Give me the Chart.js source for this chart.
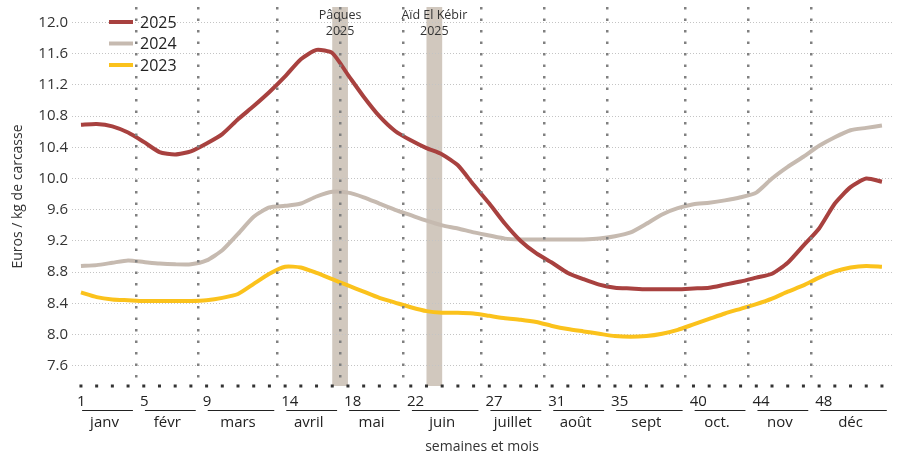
<!DOCTYPE html>
<html>
<head>
<meta charset="utf-8">
<script src="https://cdn.jsdelivr.net/npm/chart.js@4.4.0/dist/chart.umd.min.js"></script>
<style>
  html, body { margin: 0; padding: 0; background: #fff; }
</style>
</head>
<body>
<canvas id="myChart" width="904" height="456"></canvas>
<script>
// semaines 1 -> 52
const weeks = [1, 2, 3, 4, 5, 6, 7, 8, 9, 10, 11, 12, 13, 14, 15, 16, 17, 18, 19, 20, 21, 22, 23, 24, 25, 26,
  27, 28, 29, 30, 31, 32, 33, 34, 35, 36, 37, 38, 39, 40, 41, 42, 43, 44, 45, 46, 47, 48, 49, 50, 51, 52];

const prix2025 = [10.69, 10.70, 10.67, 10.59, 10.47, 10.34, 10.31, 10.35, 10.45, 10.57, 10.76, 10.93, 11.11,
  11.31, 11.53, 11.65, 11.61, 11.33, 11.05, 10.80, 10.61, 10.49, 10.39, 10.31, 10.17, 9.92,
  9.68, 9.42, 9.20, 9.04, 8.92, 8.79, 8.71, 8.64, 8.60, 8.59, 8.58, 8.58, 8.58, 8.59,
  8.60, 8.64, 8.68, 8.73, 8.78, 8.92, 9.14, 9.36, 9.68, 9.89, 10.00, 9.96];

const prix2024 = [8.88, 8.89, 8.92, 8.95, 8.93, 8.91, 8.90, 8.90, 8.95, 9.08, 9.29, 9.51, 9.63,
  9.65, 9.68, 9.77, 9.83, 9.82, 9.76, 9.68, 9.60, 9.53, 9.46, 9.40, 9.36, 9.31,
  9.27, 9.23, 9.22, 9.22, 9.22, 9.22, 9.22, 9.23, 9.26, 9.31, 9.42, 9.54, 9.62, 9.67,
  9.69, 9.72, 9.76, 9.82, 10.00, 10.15, 10.28, 10.42, 10.53, 10.62, 10.65, 10.68];

const prix2023 = [8.54, 8.48, 8.45, 8.44, 8.43, 8.43, 8.43, 8.43, 8.44, 8.47, 8.52, 8.65, 8.78,
  8.87, 8.86, 8.79, 8.71, 8.63, 8.55, 8.47, 8.41, 8.35, 8.30, 8.28, 8.28, 8.27,
  8.24, 8.21, 8.19, 8.16, 8.11, 8.07, 8.04, 8.01, 7.98, 7.97, 7.98, 8.01, 8.06, 8.13,
  8.20, 8.27, 8.33, 8.39, 8.46, 8.55, 8.63, 8.73, 8.81, 8.86, 8.88, 8.87];

const yTicks = [7.6, 7.8, 8.0, 8.2, 8.4, 8.6, 8.8, 9.0, 9.2, 9.4, 9.6, 9.8, 10.0, 10.2, 10.4,
  10.6, 10.8, 11.0, 11.2, 11.4, 11.6, 11.8, 12.0];

const monthStarts = [1, 5, 9, 14, 18, 22, 27, 31, 35, 40, 44, 48];
const monthNames = ['janv', 'févr', 'mars', 'avril', 'mai', 'juin', 'juillet', 'août', 'sept', 'oct.', 'nov', 'déc'];
const lastWeekEnd = 52.5;

const eventNames = [['Pâques', '2025'], ['Aïd El Kébir', '2025']];
const eventFrom = [17, 23];
const eventTo = [18, 24];

const FONT = "'Open Sans', sans-serif";
const colors = ['#a8413f', '#c6bab0', '#fbc21c'];

// bandes des fêtes (sous la grille)
const eventBands = {
  id: 'eventBands',
  beforeDraw(chart) {
    const { ctx, chartArea, scales: { x } } = chart;
    ctx.save();
    ctx.fillStyle = '#d1c8be';
    for (let i = 0; i < eventFrom.length; i++) {
      const x1 = x.getPixelForValue(eventFrom[i]);
      const x2 = x.getPixelForValue(eventTo[i]);
      ctx.fillRect(x1, chartArea.top, x2 - x1, chartArea.bottom - chartArea.top);
    }
    ctx.restore();
  },
  afterDraw(chart) {
    const { ctx, chartArea, scales: { x } } = chart;
    ctx.save();
    ctx.fillStyle = '#333';
    ctx.font = '12.5px ' + FONT;
    ctx.textAlign = 'center';
    ctx.textBaseline = 'middle';
    for (let i = 0; i < eventFrom.length; i++) {
      const cx = x.getPixelForValue((eventFrom[i] + eventTo[i]) / 2);
      ctx.fillText(eventNames[i][0], cx, chartArea.top + 8);
      ctx.fillText(eventNames[i][1], cx, chartArea.top + 24);
    }
    ctx.restore();
  }
};

// axe du bas : points, numeros de semaine, mois
const monthAxis = {
  id: 'monthAxis',
  afterDraw(chart) {
    const { ctx, chartArea, scales: { x } } = chart;
    const step = x.getPixelForValue(2) - x.getPixelForValue(1);
    ctx.save();
    // ligne pointillee du bas, un point par semaine
    ctx.strokeStyle = '#333';
    ctx.lineWidth = 3;
    ctx.setLineDash([3, step - 3]);
    const x0 = x.getPixelForValue(weeks[0]) - 1.5;
    ctx.beginPath();
    ctx.moveTo(x0, chartArea.bottom);
    ctx.lineTo(x.getPixelForValue(weeks[weeks.length - 1]) + 2, chartArea.bottom);
    ctx.stroke();
    ctx.setLineDash([]);

    ctx.fillStyle = '#222';
    ctx.strokeStyle = '#222';
    ctx.lineWidth = 1;
    ctx.textBaseline = 'middle';
    for (let i = 0; i < monthStarts.length; i++) {
      const b1 = x.getPixelForValue(monthStarts[i] - 0.5);
      const b2 = x.getPixelForValue(i < monthStarts.length - 1 ? monthStarts[i + 1] - 0.5 : lastWeekEnd);
      ctx.font = '15px ' + FONT;
      ctx.textAlign = 'left';
      ctx.fillText(String(monthStarts[i]), b1 + 4, chartArea.bottom + 16);
      ctx.beginPath();
      ctx.moveTo(b1 + 9, chartArea.bottom + 24.5);
      ctx.lineTo(b2 - 3, chartArea.bottom + 24.5);
      ctx.stroke();
      ctx.textAlign = 'center';
      ctx.fillText(monthNames[i], (b1 + b2) / 2, chartArea.bottom + 37);
    }
    ctx.restore();
  }
};

// legende dans le coin haut gauche
const innerLegend = {
  id: 'innerLegend',
  afterDraw(chart) {
    const { ctx, chartArea } = chart;
    ctx.save();
    ctx.font = '16px ' + FONT;
    ctx.textBaseline = 'middle';
    ctx.textAlign = 'left';
    chart.data.datasets.forEach((ds, i) => {
      const y = chartArea.top + 15 + i * 21.5;
      ctx.strokeStyle = ds.borderColor;
      ctx.lineWidth = 4;
      ctx.beginPath();
      ctx.moveTo(chartArea.left + 37, y);
      ctx.lineTo(chartArea.left + 61, y);
      ctx.stroke();
      ctx.fillStyle = '#222';
      ctx.fillText(ds.label, chartArea.left + 68, y + 1);
    });
    ctx.restore();
  }
};

const toPoints = (vals) => weeks.map((w, i) => ({ x: w, y: vals[i] }));

new Chart(document.getElementById('myChart'), {
  type: 'line',
  data: {
    datasets: [
      { label: '2025', data: toPoints(prix2025), borderColor: colors[0] },
      { label: '2024', data: toPoints(prix2024), borderColor: colors[1] },
      { label: '2023', data: toPoints(prix2023), borderColor: colors[2] }
    ]
  },
  options: {
    responsive: false,
    animation: false,
    layout: { padding: { top: 7, right: 12, left: 0, bottom: 0 } },
    elements: {
      line: { borderWidth: 4, tension: 0.2, fill: false },
      point: { radius: 0, hoverRadius: 0 }
    },
    plugins: {
      legend: { display: false },
      tooltip: { enabled: false }
    },
    scales: {
      x: {
        type: 'linear',
        min: 0.43,
        max: 52.64,
        afterBuildTicks: (scale) => {
          scale.ticks = monthStarts.slice(1).map(w => ({ value: w - 0.5 }));
        },
        afterFit: (scale) => {
          scale.height = 70;
          scale.paddingLeft = 0;
          scale.paddingRight = 0;
        },
        ticks: { display: false },
        grid: { color: '#808080', lineWidth: 2.5, drawTicks: false, z: 1 },
        border: { display: false, dash: [2.5, 9] },
        title: {
          display: true,
          text: 'semaines et mois',
          color: '#333',
          font: { family: FONT, size: 14 },
          padding: { top: 0, bottom: 1 }
        }
      },
      y: {
        min: 7.34,
        max: 12.2,
        afterBuildTicks: (scale) => {
          scale.ticks = yTicks.map(v => ({ value: v }));
        },
        afterFit: (scale) => {
          scale.width = 72;
          scale.paddingTop = 0;
          scale.paddingBottom = 0;
        },
        ticks: {
          color: '#333',
          padding: 4,
          font: { family: FONT, size: 15 },
          callback: (v) => (Math.round(v * 10) % 4 === 0 ? v.toFixed(1) : '')
        },
        grid: { color: '#c4c4c4', lineWidth: 1, drawTicks: false },
        border: { display: false, dash: [1, 2] },
        title: {
          display: true,
          text: 'Euros / kg de carcasse',
          color: '#333',
          font: { family: FONT, size: 14 },
          padding: { top: 10, bottom: 0 }
        }
      }
    }
  },
  plugins: [eventBands, monthAxis, innerLegend]
});
</script>
</body>
</html>
